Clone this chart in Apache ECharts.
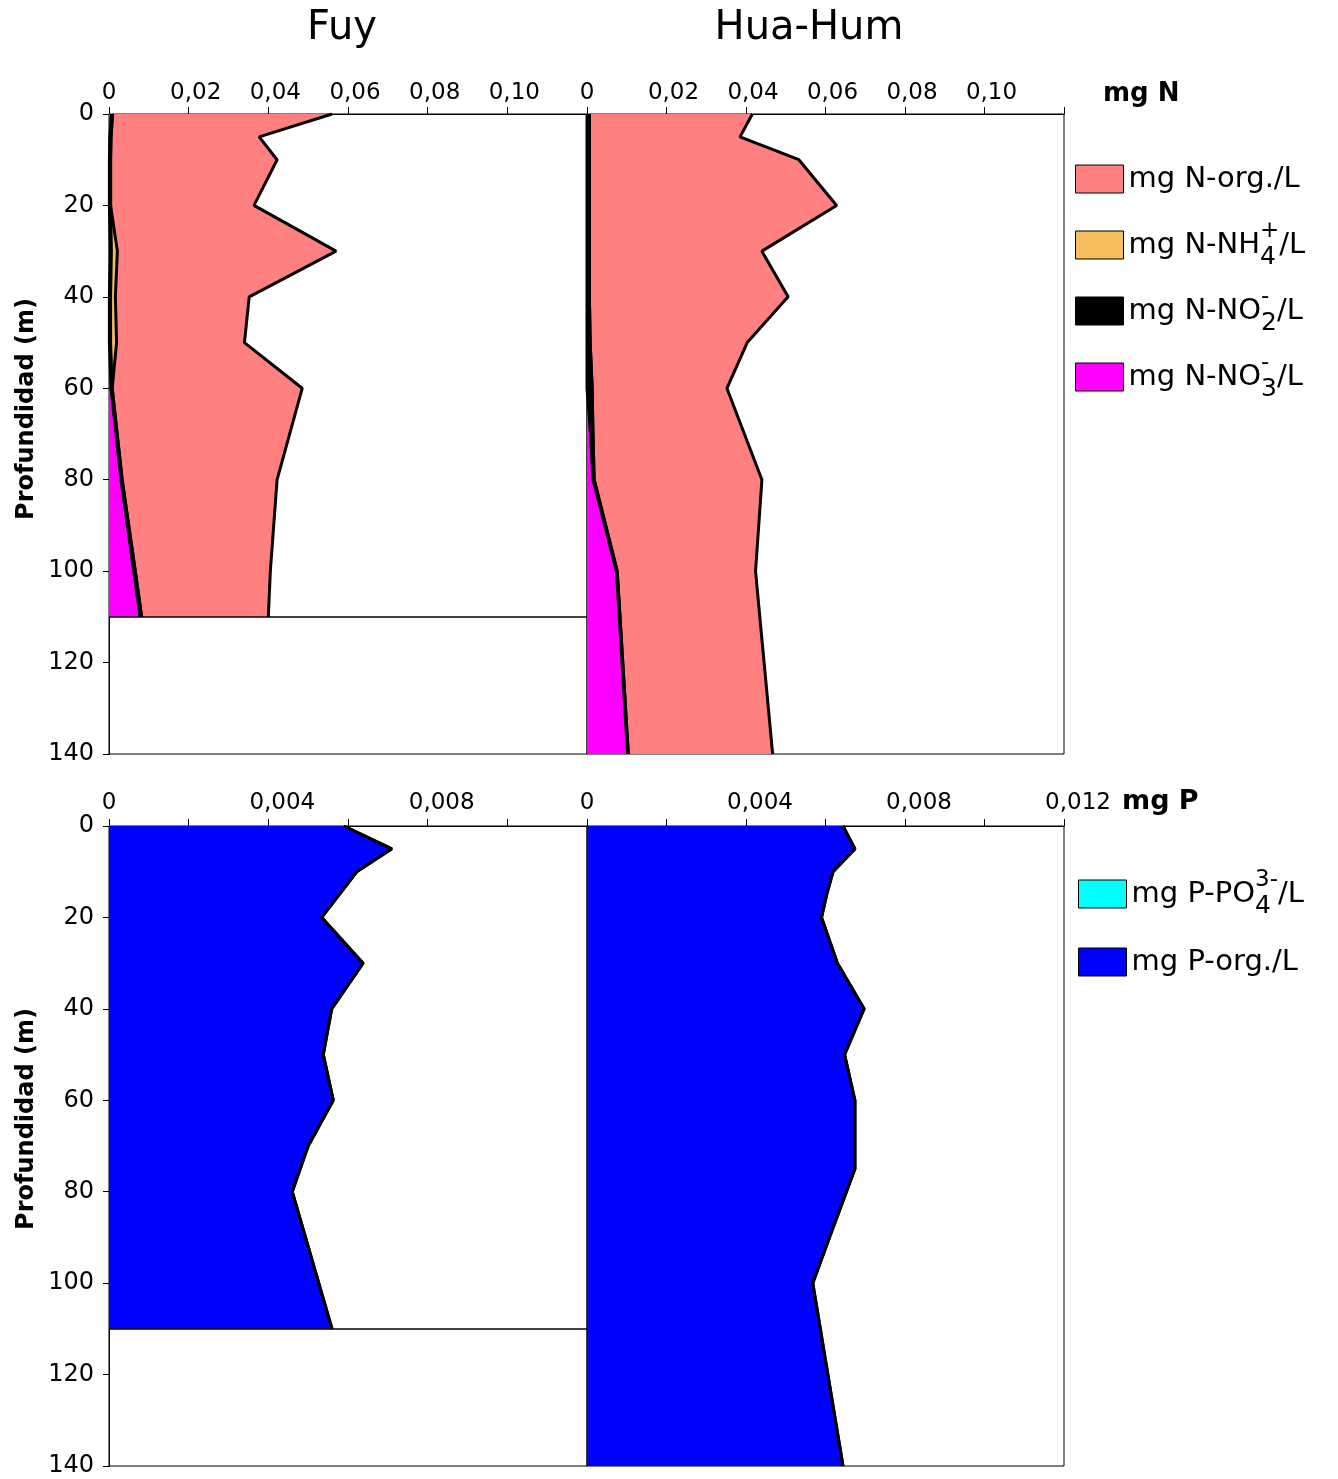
<!DOCTYPE html>
<html><head><meta charset="utf-8">
<script src="https://cdn.jsdelivr.net/npm/echarts@6/dist/echarts.min.js"></script>
<style>html,body{margin:0;padding:0;background:#fff}#c{width:1338px;height:1479px}</style>
</head><body><div id="c"></div>
<script>
// ---------- DATA ----------
const panelTitles = ['Fuy', 'Hua-Hum'];
const depthTicks = [0, 20, 40, 60, 80, 100, 120, 140];
const unitLabels = ['mg N', 'mg P'];

// Fuy - nitrogen (mg N/L) by depth (m)
const fuyNDepth = [0, 5, 10, 20, 30, 40, 50, 60, 80, 100, 110];
const fuyNO3  = [0.0006, 0.0002, 0.0001, 0.0001, 0.0003, 0.0001, 0.0001, 0.0005, 0.0030, 0.0062, 0.0078];
const fuyNO2  = [0.0003, 0.0003, 0.0003, 0.0003, 0.0003, 0.0003, 0.0003, 0.0003, 0.0003, 0.0004, 0.0004];
const fuyNH4  = [0, 0, 0, 0, 0.0015, 0.0012, 0.0015, 0, 0, 0, 0];
const fuyNorg = [0.0551, 0.0372, 0.0418, 0.0360, 0.0549, 0.0336, 0.0321, 0.0477, 0.0389, 0.0339, 0.0318];

// Hua-Hum - nitrogen
const huaNDepth = [0, 5, 10, 20, 30, 40, 50, 60, 70, 80, 100, 140];
const huaNO3  = [0, 0, 0, 0, 0, 0, 0, 0, 0.0009, 0.0015, 0.0074, 0.0102];
const huaNO2  = [0.0006, 0.0006, 0.0006, 0.0006, 0.0006, 0.0006, 0.0008, 0.0013, 0.0006, 0.0003, 0.0002, 0.0002];
const huaNH4  = [0, 0, 0, 0, 0, 0, 0, 0, 0, 0, 0, 0];
const huaNorg = [0.0410, 0.0379, 0.0527, 0.0622, 0.0434, 0.0500, 0.0395, 0.0339, 0.0381, 0.0422, 0.0348, 0.0363];

// Fuy - phosphorus (mg P/L)
const fuyPDepth = [0, 5, 10, 20, 30, 40, 50, 60, 70, 80, 110];
const fuyPorg = [0.0059, 0.0071, 0.00622, 0.00534, 0.00638, 0.00559, 0.00538, 0.00563, 0.0050, 0.00460, 0.0056];
const fuyPO4  = [0, 0, 0, 0, 0, 0, 0, 0, 0, 0, 0];

// Hua-Hum - phosphorus
const huaPDepth = [0, 5, 10, 15, 20, 30, 40, 50, 60, 75, 90, 100, 140];
const huaPorg = [0.00644, 0.00674, 0.00619, 0.00603, 0.0059, 0.0063, 0.00697, 0.00648, 0.00674, 0.00674, 0.0061, 0.00568, 0.00644];
const huaPO4  = [0, 0, 0, 0, 0, 0, 0, 0, 0, 0, 0, 0, 0];

const lakeBottom = '110';

// ---------- CHART ----------
const FONT = 'DejaVu Sans';
const depthCats = [];
for (let d = 0; d <= 140; d++) depthCats.push(String(d));

const COLORS = { 'N-org': '#FF8080', 'NH4': '#F7BE5E', 'NO2': '#000000', 'NO3': '#FF00FF', 'PO4': '#00FFFF', 'P-org': '#0000FF' };

function pairs(vals, depths) { return vals.map((v, i) => [v, String(depths[i])]); }

function areaSeries(name, gi, vals, depths, stack, extra) {
  const s = {
    name, type: 'line', xAxisIndex: gi, yAxisIndex: gi, stack,
    data: pairs(vals, depths), showSymbol: false, symbol: 'none',
    lineStyle: { color: '#000', width: 3 },
    itemStyle: { color: COLORS[name] },
    areaStyle: { color: COLORS[name], opacity: 1 },
    animation: false
  };
  return Object.assign(s, extra || {});
}
const bottomLine = {
  markLine: { silent: true, symbol: ['none', 'none'], label: { show: false },
    lineStyle: { color: '#000', width: 1.5, type: 'solid' }, data: [{ yAxis: lakeBottom }] }
};

const grids = [
  { left: 109, top: 114, width: 478, height: 640 },
  { left: 587, top: 114, width: 477, height: 640 },
  { left: 109, top: 826, width: 478, height: 640 },
  { left: 587, top: 826, width: 477, height: 640 }
].map(g => Object.assign(g, { show: true, borderColor: '#000', borderWidth: 1, backgroundColor: 'transparent' }));

const lblBase = { fontFamily: FONT, fontSize: 23, color: '#000' };
const richX = {
  z: Object.assign({}, lblBase),
  d: Object.assign({ padding: [0, 0, 0, 14] }, lblBase),
  d3: Object.assign({ padding: [0, 0, 0, 28] }, lblBase)
};
const fmtN = v => {
  if (Math.abs(v) < 1e-9) return '{z|0}';
  if (Math.abs(v - 0.12) < 1e-9) return '';
  return '{d|' + v.toFixed(2).replace('.', ',') + '}';
};
const fmtP = showLast => v => {
  if (Math.abs(v) < 1e-12) return '{z|0}';
  const k = v / 0.004;
  if (Math.abs(k - Math.round(k)) > 1e-6) return '';
  if (!showLast && Math.abs(v - 0.012) < 1e-9) return '';
  return '{d3|' + v.toFixed(3).replace('.', ',') + '}';
};

function xAx(gi, isN, showLast) {
  return {
    gridIndex: gi, type: 'value', position: 'top', min: 0,
    max: isN ? 0.12 : 0.012, interval: isN ? 0.02 : 0.002,
    axisLine: { show: true, lineStyle: { color: '#000', width: 1 } },
    axisTick: { show: true, length: 7, lineStyle: { color: '#000', width: 1 } },
    axisLabel: { margin: isN ? 9 : 11, formatter: isN ? fmtN : fmtP(showLast), rich: richX, fontFamily: FONT, fontSize: 23, color: '#000' },
    splitLine: { show: false }
  };
}
const tickEvery20 = (i) => depthTicks.indexOf(i) >= 0;
function yAx(gi, showLabels) {
  return {
    gridIndex: gi, type: 'category', data: depthCats, inverse: true, boundaryGap: false,
    axisLine: { show: true, lineStyle: { color: '#000', width: 1 } },
    axisTick: { show: showLabels, interval: tickEvery20, length: 6, lineStyle: { color: '#000' } },
    axisLabel: { show: showLabels, interval: tickEvery20, margin: 15, fontFamily: FONT, fontSize: 24, color: '#000' },
    splitLine: { show: false }
  };
}

const legendText = {
  'N-org': 'mg N-org./L',
  'NH4': 'mg N-NH{sub0|4}{sup|+}/L',
  'NO2': 'mg N-NO{sup0|-}{sub|2}/L',
  'NO3': 'mg N-NO{sup0|-}{sub|3}/L',
  'PO4': 'mg P-PO{sub0|4}{sup|3-}/L',
  'P-org': 'mg P-org./L'
};
const legendRich = {
  sub:  { fontFamily: FONT, fontSize: 25, color: '#000', lineHeight: 1, verticalAlign: 'bottom' },
  sub0: { fontFamily: FONT, fontSize: 25, color: '#000', lineHeight: 1, verticalAlign: 'bottom', width: 0 },
  sup:  { fontFamily: FONT, fontSize: 23, color: '#000', lineHeight: 31, verticalAlign: 'top' },
  sup0: { fontFamily: FONT, fontSize: 23, color: '#000', lineHeight: 31, verticalAlign: 'top', width: 0 }
};
function legend(data, left, top, gap) {
  return {
    orient: 'vertical', left, top, padding: 0, itemWidth: 48, itemHeight: 28, itemGap: gap,
    selectedMode: false, icon: 'rect', data,
    itemStyle: { borderColor: '#000', borderWidth: 1 },
    formatter: n => legendText[n],
    textStyle: { fontFamily: FONT, fontSize: 29, color: '#000', lineHeight: 50, rich: legendRich }
  };
}

const series = [
  // Fuy N (grid 0) - inner first
  areaSeries('NO3', 0, fuyNO3, fuyNDepth, 'fn'),
  areaSeries('NO2', 0, fuyNO2, fuyNDepth, 'fn'),
  areaSeries('NH4', 0, fuyNH4, fuyNDepth, 'fn'),
  areaSeries('N-org', 0, fuyNorg, fuyNDepth, 'fn', bottomLine),
  // Hua-Hum N (grid 1)
  areaSeries('NO3', 1, huaNO3, huaNDepth, 'hn'),
  areaSeries('NO2', 1, huaNO2, huaNDepth, 'hn'),
  areaSeries('NH4', 1, huaNH4, huaNDepth, 'hn'),
  areaSeries('N-org', 1, huaNorg, huaNDepth, 'hn'),
  // Fuy P (grid 2)
  areaSeries('P-org', 2, fuyPorg, fuyPDepth, 'fp'),
  areaSeries('PO4', 2, fuyPO4, fuyPDepth, 'fp', bottomLine),
  // Hua-Hum P (grid 3)
  areaSeries('P-org', 3, huaPorg, huaPDepth, 'hp'),
  areaSeries('PO4', 3, huaPO4, huaPDepth, 'hp')
];

const textEl = (text, x, y, font, align, rot) => ({
  type: 'text', x, y, rotation: rot || 0, silent: true,
  style: { text, font, fill: '#000', align: align, verticalAlign: 'middle', textAlign: align, textVerticalAlign: 'middle' }
});

const option = {
  animation: false,
  backgroundColor: '#fff',
  grid: grids,
  xAxis: [xAx(0, true, false), xAx(1, true, false), xAx(2, false, false), xAx(3, false, true)],
  yAxis: [yAx(0, true), yAx(1, false), yAx(2, true), yAx(3, false)],
  legend: [
    legend(['N-org', 'NH4', 'NO2', 'NO3'], 1075, 154, 16),
    legend(['PO4', 'P-org'], 1078, 869, 18)
  ],
  graphic: [
    textEl(panelTitles[0], 342, 29, '40px "DejaVu Sans"', 'center'),
    textEl(panelTitles[1], 809, 29, '40px "DejaVu Sans"', 'center'),
    textEl(unitLabels[0], 1103, 94, 'bold 26px "DejaVu Sans"', 'left'),
    textEl(unitLabels[1], 1122, 802, 'bold 27px "DejaVu Sans"', 'left'),
    textEl('Profundidad (m)', 27, 409, 'bold 24px "DejaVu Sans"', 'center', Math.PI / 2),
    textEl('Profundidad (m)', 27, 1119, 'bold 24px "DejaVu Sans"', 'center', Math.PI / 2)
  ],
  series
};

const chart = echarts.init(document.getElementById('c'), null, { renderer: 'canvas' });
chart.setOption(option);
</script>
</body></html>
